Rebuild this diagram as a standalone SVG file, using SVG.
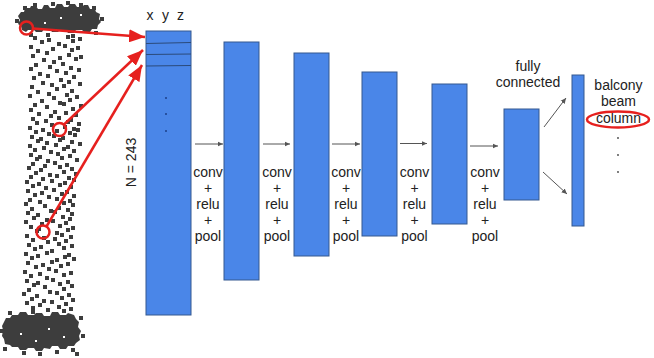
<svg xmlns="http://www.w3.org/2000/svg" width="654" height="358" viewBox="0 0 654 358">
<style>
.blk{fill:#4a86e8;stroke:#34588f;stroke-width:1}
.t{font-family:"Liberation Sans",Arial,sans-serif;font-size:14px;fill:#222}
.tc{text-anchor:middle}
.red{stroke:#e6201e;stroke-width:2.5;fill:none}
.gar{stroke:#555;stroke-width:1;fill:none}
.pt{fill:#3d3d3d}
</style>
<defs>
<marker id="rh" markerUnits="userSpaceOnUse" markerWidth="17" markerHeight="13" refX="16" refY="6.5" orient="auto">
<path d="M0,0 L16,6.5 L0,13 Z" fill="#e6201e"/>
</marker>
<marker id="gh" markerUnits="userSpaceOnUse" markerWidth="6" markerHeight="6" refX="5.5" refY="3" orient="auto">
<path d="M0,0.5 L5.5,3 L0,5.5 Z" fill="#555"/>
</marker>
</defs>

<g id="pointcloud">
<path class="pt" d="M33,36h4v4h-4zM47,38h4v4h-4zM66,35h4v4h-4zM78,37h4v4h-4z
M40,40h4v4h-4zM57,42h4v4h-4zM71,39h4v4h-4z
M29,45h4v4h-4zM51,47h4v4h-4zM63,44h4v4h-4zM76,46h4v4h-4z
M36,49h4v4h-4zM45,51h4v4h-4zM70,48h4v4h-4z
M31,54h4v4h-4zM58,56h4v4h-4zM67,53h4v4h-4zM79,55h4v4h-4z
M42,58h4v4h-4zM52,60h4v4h-4zM74,57h4v4h-4z
M34,63h4v4h-4zM48,65h4v4h-4zM61,62h4v4h-4z
M29,67h4v4h-4zM55,69h4v4h-4zM69,66h4v4h-4zM77,68h4v4h-4z
M38,72h4v4h-4zM46,74h4v4h-4zM64,71h4v4h-4z
M32,76h4v4h-4zM59,78h4v4h-4zM72,75h4v4h-4z
M41,81h4v4h-4zM50,83h4v4h-4zM67,80h4v4h-4zM78,82h4v4h-4z
M30,85h4v4h-4zM55,87h4v4h-4zM62,84h4v4h-4z
M36,90h4v4h-4zM47,92h4v4h-4zM70,89h4v4h-4z
M28,94h4v4h-4zM52,96h4v4h-4zM65,93h4v4h-4zM75,95h4v4h-4z
M40,99h4v4h-4zM58,101h4v4h-4zM68,98h4v4h-4z
M33,103h4v4h-4zM45,105h4v4h-4zM62,102h4v4h-4zM79,104h4v4h-4z
M29,108h4v4h-4zM53,110h4v4h-4zM71,107h4v4h-4z
M37,112h4v4h-4zM49,114h4v4h-4zM64,111h4v4h-4zM74,113h4v4h-4z
M31,117h4v4h-4zM44,119h4v4h-4zM57,116h4v4h-4zM69,118h4v4h-4z
M35,121h4v4h-4zM50,123h4v4h-4zM66,120h4v4h-4zM77,122h4v4h-4z
M28,126h4v4h-4zM41,128h4v4h-4zM63,125h4v4h-4zM72,127h4v4h-4z
M34,130h4v4h-4zM47,132h4v4h-4zM55,129h4v4h-4zM68,131h4v4h-4zM76,128h4v4h-4z
M30,135h4v4h-4zM39,137h4v4h-4zM52,134h4v4h-4zM61,136h4v4h-4zM73,133h4v4h-4z
M36,139h4v4h-4zM45,141h4v4h-4zM58,138h4v4h-4zM70,140h4v4h-4z
M28,144h4v4h-4zM42,146h4v4h-4zM54,143h4v4h-4zM66,145h4v4h-4zM78,142h4v4h-4z
M33,148h4v4h-4zM49,150h4v4h-4zM62,147h4v4h-4zM72,149h4v4h-4z
M29,153h4v4h-4zM38,155h4v4h-4zM56,152h4v4h-4zM68,154h4v4h-4z
M35,157h4v4h-4zM46,159h4v4h-4zM60,156h4v4h-4zM75,158h4v4h-4z
M31,162h4v4h-4zM43,164h4v4h-4zM53,161h4v4h-4zM65,163h4v4h-4z
M27,166h4v4h-4zM39,168h4v4h-4zM58,165h4v4h-4zM70,167h4v4h-4z
M34,171h4v4h-4zM48,173h4v4h-4zM62,170h4v4h-4zM74,172h4v4h-4z
M29,175h4v4h-4zM41,177h4v4h-4zM55,174h4v4h-4zM67,176h4v4h-4z
M25,180h4v4h-4zM37,182h4v4h-4zM50,179h4v4h-4zM63,181h4v4h-4zM72,178h4v4h-4z
M31,184h4v4h-4zM44,186h4v4h-4zM58,183h4v4h-4zM69,185h4v4h-4z
M26,189h4v4h-4zM40,191h4v4h-4zM52,188h4v4h-4zM65,190h4v4h-4z
M33,193h4v4h-4zM47,195h4v4h-4zM60,192h4v4h-4zM72,194h4v4h-4z
M28,198h4v4h-4zM38,200h4v4h-4zM55,197h4v4h-4zM68,199h4v4h-4z
M24,202h4v4h-4zM43,204h4v4h-4zM62,201h4v4h-4zM71,203h4v4h-4z
M30,207h4v4h-4zM49,209h4v4h-4zM57,206h4v4h-4zM66,208h4v4h-4z
M26,211h4v4h-4zM36,213h4v4h-4zM53,210h4v4h-4zM70,212h4v4h-4z
M32,216h4v4h-4zM45,218h4v4h-4zM61,215h4v4h-4zM68,217h4v4h-4z
M24,220h4v4h-4zM40,222h4v4h-4zM51,219h4v4h-4zM64,221h4v4h-4z
M29,225h4v4h-4zM37,227h4v4h-4zM58,224h4v4h-4zM71,226h4v4h-4z
M35,229h4v4h-4zM55,231h4v4h-4zM66,228h4v4h-4z
M25,234h4v4h-4zM42,236h4v4h-4zM60,233h4v4h-4zM69,235h4v4h-4z
M31,238h4v4h-4zM46,240h4v4h-4zM53,237h4v4h-4zM64,239h4v4h-4z
M27,243h4v4h-4zM39,245h4v4h-4zM57,242h4v4h-4zM70,244h4v4h-4z
M33,247h4v4h-4zM50,249h4v4h-4zM62,246h4v4h-4z
M24,252h4v4h-4zM36,254h4v4h-4zM45,251h4v4h-4zM67,253h4v4h-4z
M30,256h4v4h-4zM55,258h4v4h-4zM63,255h4v4h-4zM72,257h4v4h-4z
M26,261h4v4h-4zM41,263h4v4h-4zM50,260h4v4h-4zM66,262h4v4h-4z
M34,265h4v4h-4zM47,267h4v4h-4zM59,264h4v4h-4z
M23,270h4v4h-4zM38,272h4v4h-4zM54,269h4v4h-4zM69,271h4v4h-4z
M29,274h4v4h-4zM45,276h4v4h-4zM62,273h4v4h-4z
M25,279h4v4h-4zM36,281h4v4h-4zM51,278h4v4h-4zM66,280h4v4h-4z
M32,283h4v4h-4zM43,285h4v4h-4zM58,282h4v4h-4zM70,284h4v4h-4z
M27,288h4v4h-4zM48,290h4v4h-4zM62,287h4v4h-4z
M22,292h4v4h-4zM35,294h4v4h-4zM55,291h4v4h-4zM67,293h4v4h-4z
M30,297h4v4h-4zM42,299h4v4h-4zM60,296h4v4h-4zM71,298h4v4h-4z
M25,301h4v4h-4zM38,303h4v4h-4zM50,300h4v4h-4zM64,302h4v4h-4z
M31,306h4v4h-4zM46,308h4v4h-4zM57,305h4v4h-4zM69,307h4v4h-4z"/>
<polygon class="pt" points="18,16 21,12 24,12 25,8 30,8 31,6 36,6 38,9 42,9 44,5 48,5 50,8 55,8 57,4 62,4 64,7 68,7 70,4 75,4 77,7 82,7 84,5 88,5 90,9 95,9 96,12 100,14 99,19 101,22 98,25 97,29 92,29 90,32 84,32 82,30 76,30 74,33 68,33 66,30 60,30 58,32 52,32 50,29 44,29 42,32 36,32 34,30 28,30 26,32 22,30 21,26 18,24 20,20"/>
<path class="pt" d="M23,6h4v4h-4zM33,3h4v4h-4zM51,2h4v4h-4zM66,1h4v4h-4zM79,3h4v4h-4zM92,6h4v4h-4zM100,17h4v4h-4zM94,31h4v4h-4zM71,34h4v4h-4zM46,33h4v4h-4zM29,33h4v4h-4zM15,19h4v4h-4z"/>
<polygon class="pt" points="4,322 6,318 10,318 12,315 18,315 20,312 26,312 28,315 34,315 36,313 42,313 44,316 50,316 52,312 58,312 60,315 66,315 68,313 74,315 76,319 79,322 78,327 81,331 79,336 80,340 76,343 74,346 68,346 66,349 60,349 58,346 52,346 50,349 44,348 42,351 36,351 34,348 28,348 26,350 20,350 18,347 12,347 10,345 5,344 4,339 2,336 3,330 2,326"/>
<path class="pt" d="M8,311h4v4h-4zM31,310h4v4h-4zM62,309h4v4h-4zM79,316h4v4h-4zM81,334h4v4h-4zM71,348h4v4h-4zM55,350h4v4h-4zM38,352h4v4h-4zM22,351h4v4h-4zM3,347h4v4h-4zM0,329h4v4h-4zM75,352h4v4h-4z"/>
<path fill="#fff" d="M60,17h2v2h-2zM44,22h2v2h-2zM80,14h2v2h-2zM20,333h2v2h-2zM48,328h2v2h-2zM35,340h2v2h-2zM63,336h2v2h-2z"/>
</g>

<g id="input-block">
<rect class="blk" x="146" y="31" width="45" height="284"/>
<path d="M146,43.5 L191,42.5 M146,54.5 L191,54 M146,66 L191,65.5" stroke="#2b4a7a" stroke-width="1" fill="none"/>
<circle cx="166" cy="98" r="1" fill="#1c3f8a"/>
<circle cx="166" cy="114" r="1" fill="#1c3f8a"/>
<circle cx="166" cy="131" r="1" fill="#1c3f8a"/>
<text class="t"><tspan x="146.5" y="20">x</tspan><tspan x="162" y="20">y</tspan><tspan x="177" y="20">z</tspan></text>
<text class="t tc" transform="translate(136,162.5) rotate(-90)">N = 243</text>
</g>

<g id="conv1"><rect class="blk" x="224" y="42" width="35" height="238"/></g>
<g id="conv2"><rect class="blk" x="294" y="53" width="35" height="203"/></g>
<g id="conv3"><rect class="blk" x="362" y="72" width="35" height="164"/></g>
<g id="conv4"><rect class="blk" x="432" y="84" width="35" height="140"/></g>
<g id="fc">
<rect class="blk" x="504" y="109" width="35" height="91"/>
<text class="t tc"><tspan x="528" y="71">fully</tspan><tspan x="528" y="87">connected</tspan></text>
</g>
<g id="output">
<rect class="blk" x="572" y="75" width="12" height="151"/>
<text class="t tc"><tspan x="618.5" y="90">balcony</tspan><tspan x="618.5" y="106">beam</tspan><tspan x="618.5" y="123">column</tspan></text>
<ellipse class="red" cx="618" cy="119.5" rx="31" ry="8" stroke-width="2"/>
<circle cx="618" cy="138" r="0.9" fill="#444"/>
<circle cx="618" cy="155" r="0.9" fill="#444"/>
<circle cx="618" cy="172" r="0.9" fill="#444"/>
</g>

<g id="labels">
<text class="t tc"><tspan x="208" y="177">conv</tspan><tspan x="208" y="193">+</tspan><tspan x="208" y="209">relu</tspan><tspan x="208" y="225">+</tspan><tspan x="208" y="241">pool</tspan></text>
<text class="t tc"><tspan x="277" y="177">conv</tspan><tspan x="277" y="193">+</tspan><tspan x="277" y="209">relu</tspan><tspan x="277" y="225">+</tspan><tspan x="277" y="241">pool</tspan></text>
<text class="t tc"><tspan x="346" y="177">conv</tspan><tspan x="346" y="193">+</tspan><tspan x="346" y="209">relu</tspan><tspan x="346" y="225">+</tspan><tspan x="346" y="241">pool</tspan></text>
<text class="t tc"><tspan x="414.5" y="177">conv</tspan><tspan x="414.5" y="193">+</tspan><tspan x="414.5" y="209">relu</tspan><tspan x="414.5" y="225">+</tspan><tspan x="414.5" y="241">pool</tspan></text>
<text class="t tc"><tspan x="485" y="177">conv</tspan><tspan x="485" y="193">+</tspan><tspan x="485" y="209">relu</tspan><tspan x="485" y="225">+</tspan><tspan x="485" y="241">pool</tspan></text>
</g>

<g id="connectors">
<circle class="red" cx="26.5" cy="28" r="6.5"/>
<circle class="red" cx="59.5" cy="129.5" r="6.5"/>
<circle class="red" cx="43" cy="232" r="6.5"/>
<line class="red" x1="33" y1="28.5" x2="145" y2="37" marker-end="url(#rh)"/>
<line class="red" x1="64" y1="124.5" x2="143" y2="50" marker-end="url(#rh)"/>
<line class="red" x1="46.5" y1="226.5" x2="142" y2="65" marker-end="url(#rh)"/>
<line class="gar" x1="195" y1="144" x2="223" y2="144" marker-end="url(#gh)"/>
<line class="gar" x1="263" y1="144" x2="290" y2="144" marker-end="url(#gh)"/>
<line class="gar" x1="332" y1="144" x2="360" y2="144" marker-end="url(#gh)"/>
<line class="gar" x1="400" y1="143.5" x2="427" y2="143.5" marker-end="url(#gh)"/>
<line class="gar" x1="470" y1="146" x2="498" y2="146" marker-end="url(#gh)"/>
<line class="gar" x1="544" y1="127" x2="566" y2="98" marker-end="url(#gh)"/>
<line class="gar" x1="543" y1="172" x2="567" y2="194" marker-end="url(#gh)"/>
</g>
</svg>
